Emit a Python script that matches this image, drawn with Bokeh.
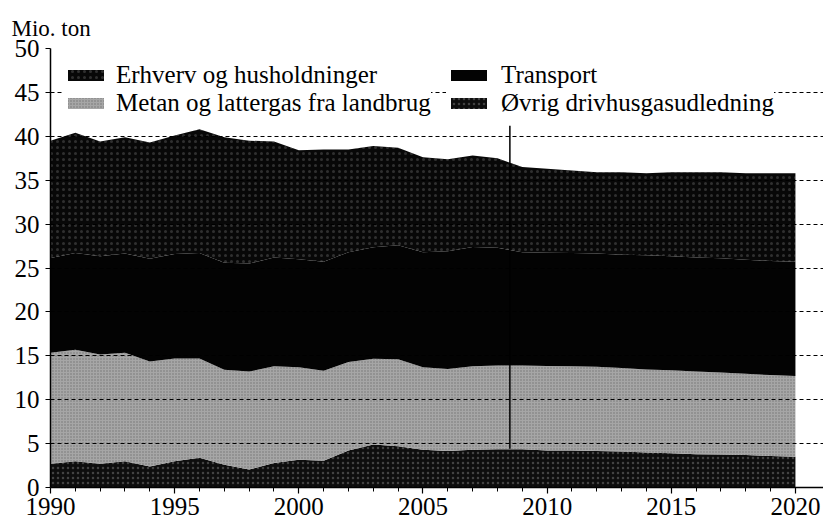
from bokeh.plotting import figure
from bokeh.models import ColumnDataSource, Legend, LegendItem, Title, FixedTicker
from bokeh.embed import file_html
from bokeh.resources import INLINE
from bokeh.transform import stack

years = list(range(1990, 2021))
ovrig = [2.7, 3.0, 2.7, 3.0, 2.4, 3.0, 3.4, 2.6, 2.05, 2.8, 3.15, 3.05, 4.2, 4.9, 4.7,
         4.3, 4.15, 4.3, 4.35, 4.35, 4.2, 4.2, 4.15, 4.1, 4.0, 3.9, 3.8, 3.75, 3.7, 3.6, 3.5]
metan = [12.65, 12.7, 12.45, 12.35, 11.95, 11.7, 11.3, 10.8, 11.15, 11.0, 10.55, 10.25, 10.1, 9.75, 9.9,
         9.4, 9.35, 9.5, 9.55, 9.55, 9.65, 9.6, 9.6, 9.5, 9.45, 9.45, 9.4, 9.35, 9.25, 9.2, 9.2]
transport = [10.8, 11.0, 11.2, 11.3, 11.7, 11.9, 12.0, 12.2, 12.3, 12.4, 12.3, 12.4, 12.5, 12.7, 13.0,
             13.1, 13.4, 13.6, 13.4, 12.9, 12.9, 12.9, 12.9, 12.9, 13.0, 13.0, 13.0, 13.0, 13.0, 13.0, 13.0]
erhverv = [13.35, 13.7, 13.05, 13.25, 13.25, 13.5, 14.1, 14.3, 14.0, 13.2, 12.4, 12.8, 11.7, 11.55, 11.1,
           10.8, 10.5, 10.4, 10.2, 9.7, 9.55, 9.4, 9.25, 9.4, 9.35, 9.55, 9.7, 9.8, 9.85, 10.0, 10.1]

series_names = ["Øvrig drivhusgasudledning", "Metan og lattergas fra landbrug", "Transport",
                "Erhverv og husholdninger"]
y_ticks = [0, 5, 10, 15, 20, 25, 30, 35, 40, 45, 50]
x_ticks = [1990, 1995, 2000, 2005, 2010, 2015, 2020]
marker_year = 2008.5
marker_y0 = 4.4
marker_y1 = 41.2

source = ColumnDataSource(dict(year=years, ovrig=ovrig, metan=metan,
                               transport=transport, erhverv=erhverv))

FONT = "'Liberation Serif', 'Times New Roman', serif"

p = figure(width=823, height=529, x_range=(1990, 2021.13), y_range=(0, 50),
           output_backend="svg", toolbar_location=None,
           min_border_left=50, min_border_right=0, min_border_top=48, min_border_bottom=42)
p.outline_line_color = None
p.background_fill_color = "white"

cols = ["ovrig", "metan", "transport", "erhverv"]
styles = [
    dict(fill_color="#0d0d0d", hatch_pattern="dot", hatch_color="white", hatch_alpha=0.22,
         hatch_scale=5, hatch_weight=1),
    dict(fill_color="#a6a6a6", hatch_pattern="dot", hatch_color="#505050", hatch_alpha=0.6,
         hatch_scale=3, hatch_weight=1),
    dict(fill_color="#030303"),
    dict(fill_color="#080808", hatch_pattern="dot", hatch_color="white", hatch_alpha=0.16,
         hatch_scale=6, hatch_weight=1),
]
renderers = []
for i, c in enumerate(cols):
    r = p.varea(x="year", y1=stack(*cols[:i]) if i > 0 else 0, y2=stack(*cols[:i + 1]),
                source=source, **styles[i])
    renderers.append(r)

p.segment(x0=[marker_year], y0=[marker_y0], x1=[marker_year], y1=[marker_y1],
          line_color="black", line_width=1.5)

# grid
p.xgrid.visible = False
p.ygrid.ticker = FixedTicker(ticks=y_ticks)
p.ygrid.grid_line_color = "black"
p.ygrid.grid_line_dash = "4 3"
p.ygrid.grid_line_width = 1
p.ygrid.level = "guide"

# axes
xa = p.xaxis[0]
ya = p.yaxis[0]
xa.ticker = FixedTicker(ticks=x_ticks, minor_ticks=years)
ya.ticker = FixedTicker(ticks=y_ticks, minor_ticks=[])
for ax in (xa, ya):
    ax.axis_line_color = "black"
    ax.axis_line_width = 1.5
    ax.major_tick_line_color = "black"
    ax.major_tick_line_width = 1.2
    ax.minor_tick_line_color = "black"
    ax.major_label_text_color = "black"
    ax.major_label_text_font = FONT
    ax.major_label_text_font_size = "25px"
    ax.major_label_text_font_style = "normal"
    ax.major_tick_in = 0
    ax.minor_tick_in = 0
xa.major_tick_out = 6
xa.minor_tick_out = 4
xa.major_label_standoff = 4
ya.major_tick_out = 5
ya.major_label_standoff = 6

# unit title
p.add_layout(Title(text="Mio. ton", align="left", offset=-39, standoff=16,
                   text_font=FONT, text_font_size="23px", text_color="black",
                   text_font_style="normal"), "above")

legend_style = dict(orientation="vertical", margin=0, padding=9, spacing=0,
                    glyph_width=45, glyph_height=14,
                    label_text_font=FONT, label_text_font_size="25px",
                    label_text_color="black", label_text_font_style="normal",
                    label_height=24, border_line_color=None,
                    background_fill_color="white", background_fill_alpha=1.0)
legend_a = Legend(items=[
    LegendItem(label=series_names[3], renderers=[renderers[3]]),
    LegendItem(label=series_names[1], renderers=[renderers[1]]),
], location=(13, 370), label_standoff=8, **legend_style)
legend_b = Legend(items=[
    LegendItem(label=series_names[2], renderers=[renderers[2]]),
    LegendItem(label=series_names[0], renderers=[renderers[0]]),
], location=(396, 370), label_standoff=10, **legend_style)
p.add_layout(legend_a)
p.add_layout(legend_b)

open("out.html", "w").write(file_html(p, INLINE))
